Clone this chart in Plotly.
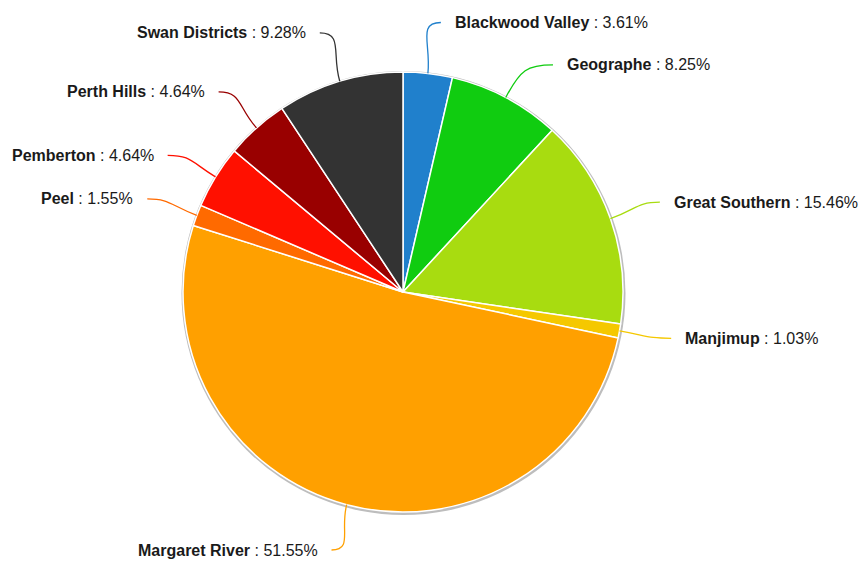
import math
import plotly.graph_objects as go

regions = ["Blackwood Valley", "Geographe", "Great Southern", "Manjimup",
           "Margaret River", "Peel", "Pemberton", "Perth Hills", "Swan Districts"]
shares = [3.61, 8.25, 15.46, 1.03, 51.55, 1.55, 4.64, 4.64, 9.28]
colors = ["#2080cc", "#10cc10", "#a8dc10", "#f5c800", "#ffa000",
          "#ff6a00", "#ff1000", "#990000", "#333333"]
# small angular nudges (degrees) the labels were spread by to avoid overlapping
label_nudge = [1.5, 5.6, 0.2, -0.4, 0.4, -0.4, -1.4, -0.9, -1.1]

W, H = 861, 561
CX, CY, R = 403, 292, 220
LABEL_R = 1.237 * R
MAX_LABEL_Y = H - 11

fig = go.Figure(go.Pie(
    labels=regions, values=shares, sort=False, direction="clockwise",
    rotation=0, textinfo="none", hoverinfo="label+percent",
    marker=dict(colors=colors, line=dict(color="white", width=1.5)),
    domain=dict(x=[(CX - R) / W, (CX + R) / W], y=[1 - (CY + R) / H, 1 - (CY - R) / H]),
    showlegend=False,
))


def px(x):
    return x / W


def py(y):
    return 1 - y / H


shapes = []
# soft shadow ring behind the pie
shapes.append(dict(type="circle", xref="paper", yref="paper", layer="below",
                   x0=px(CX - R - 1.5), x1=px(CX + R + 2.5), y0=py(CY + R + 3), y1=py(CY - R - 1),
                   fillcolor="#bdbdbd", line=dict(width=0)))

annotations = []
total = sum(shares)
cum = 0.0
for name, v, c, nd in zip(regions, shares, colors, label_nudge):
    mid = (cum + v / 2) / total * 2 * math.pi
    cum += v
    s, co = math.sin(mid), math.cos(mid)
    la = mid + math.radians(nd)
    side = 1 if math.sin(la) >= 0 else -1
    x0, y0 = CX + R * s, CY - R * co
    x1, y1 = CX + LABEL_R * math.sin(la), CY - LABEL_R * math.cos(la)
    y1 = min(y1, MAX_LABEL_Y)
    L = math.hypot(x1 - x0, y1 - y0)
    c1x, c1y = x0 + 0.55 * L * s, y0 - 0.55 * L * co
    c2x, c2y = x1 - side * 0.45 * L, y1
    path = (f"M {px(x0)},{py(y0)} C {px(c1x)},{py(c1y)} "
            f"{px(c2x)},{py(c2y)} {px(x1)},{py(y1)}")
    shapes.append(dict(type="path", xref="paper", yref="paper", path=path,
                       line=dict(color=c, width=1.3)))
    annotations.append(dict(
        x=px(x1 + side * 12), y=py(y1), xref="paper", yref="paper",
        xanchor="left" if side > 0 else "right", yanchor="middle",
        showarrow=False, text=f"<b>{name}</b> : {v:.2f}%",
        font=dict(family="Liberation Sans, Arial", size=16, color="#1a1a1a"),
    ))

fig.update_layout(
    width=W, height=H, margin=dict(l=0, r=0, t=0, b=0),
    paper_bgcolor="white", plot_bgcolor="white",
    shapes=shapes, annotations=annotations,
)

fig.write_html("out.html")
